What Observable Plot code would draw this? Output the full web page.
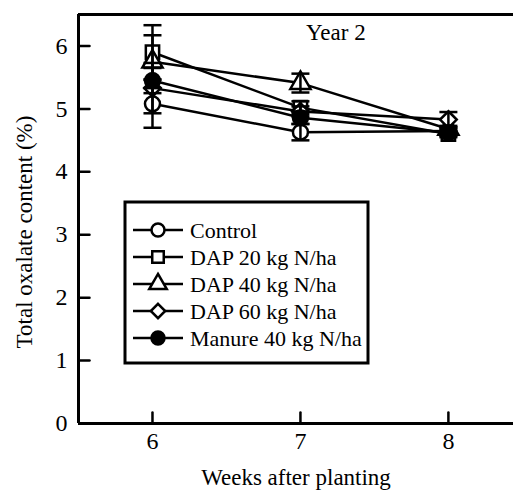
<!DOCTYPE html>
<html><head><meta charset="utf-8">
<script src="https://cdn.jsdelivr.net/npm/d3@7"></script>
<script src="https://cdn.jsdelivr.net/npm/@observablehq/plot@0.6"></script>
<style>
html,body{margin:0;padding:0;background:#fff;}
svg, svg text { font-family: 'Liberation Serif', 'Times New Roman', Times, serif !important; }
</style></head>
<body><div id="chart"></div>
<script>
const weeks = [6, 7, 8];
const seriesNames = ["Control", "DAP 20 kg N/ha", "DAP 40 kg N/ha", "DAP 60 kg N/ha", "Manure 40 kg N/ha"];
const control = [5.08, 4.63, 4.65];
const dap20   = [5.90, 5.02, 4.60];
const dap40   = [5.75, 5.41, 4.68];
const dap60   = [5.33, 4.96, 4.83];
const manure  = [5.45, 4.86, 4.62];
const controlErr = [0.38, 0.13, 0.05];
const dap20Err   = [0.43, 0.10, 0.05];
const dap40Err   = [0.42, 0.15, 0.05];
const dap60Err   = [0.40, 0.08, 0.12];
const manureErr  = [0.20, 0.10, 0.05];
const yTicks = [0, 1, 2, 3, 4, 5, 6];
const xTicks = [6, 7, 8];
const xDomain = [5.5, 8.44];
const yDomain = [0, 6.5];
const symbols = ["circle", "square", "triangle", "diamond2", "circle"];
const fills = ["white", "white", "white", "white", "black"];

const values = [control, dap20, dap40, dap60, manure];
const errs = [controlErr, dap20Err, dap40Err, dap60Err, manureErr];
const data = [];
seriesNames.forEach((s, i) => weeks.forEach((w, j) => data.push({
  series: s, week: w, value: values[i][j], err: errs[i][j], symbol: symbols[i], fill: fills[i]
})));

const capSymbol = {draw(ctx) { ctx.moveTo(-9, 0); ctx.lineTo(9, 0); }};
const tickRight = {draw(ctx, l) { ctx.moveTo(0, 0); ctx.lineTo(0, -l); }};

const plot = Plot.plot({
  width: 513, height: 495,
  marginLeft: 78, marginTop: 14, marginRight: 0, marginBottom: 72,
  style: {fontSize: "22px", color: "black", background: "white"},
  x: {domain: xDomain, axis: null},
  y: {domain: yDomain, axis: null},
  marks: [
    Plot.line(data, {x: "week", y: "value", z: "series", stroke: "black", strokeWidth: 2.5}),
    Plot.dot(data, {x: "week", y: "value", symbol: d => d.symbol, fill: d => d.fill, stroke: "black", strokeWidth: 2.5, r: 7.5}),
    Plot.ruleX(data, {x: "week", y1: d => d.value - d.err, y2: d => d.value + d.err, stroke: "black", strokeWidth: 2.5}),
    Plot.dot(data, {x: "week", y: d => d.value + d.err, symbol: capSymbol, stroke: "black", strokeWidth: 2.5, fill: "none"}),
    Plot.dot(data, {x: "week", y: d => d.value - d.err, symbol: capSymbol, stroke: "black", strokeWidth: 2.5, fill: "none"}),
    Plot.ruleX([xDomain[0]], {stroke: "black", strokeWidth: 3}),
    Plot.ruleY([yDomain[0]], {stroke: "black", strokeWidth: 3}),
    Plot.ruleY([yDomain[1]], {stroke: "black", strokeWidth: 3}),
    Plot.vector(yTicks.slice(1), {y: d => d, frameAnchor: "left", length: 11, rotate: 90, anchor: "start", shape: tickRight, stroke: "black", strokeWidth: 2.5}),
    Plot.text(yTicks, {y: d => d, frameAnchor: "left", dx: -11, textAnchor: "end", text: d => String(d), fontSize: 24}),
    Plot.vector(xTicks, {x: d => d, frameAnchor: "bottom", length: 11, anchor: "start", shape: tickRight, stroke: "black", strokeWidth: 2.5}),
    Plot.text(xTicks, {x: d => d, frameAnchor: "bottom", dy: 25, text: d => String(d), fontSize: 24})
  ]
});

const svg = d3.select(plot);
svg.append("text").attr("x", 296).attr("y", 485).attr("text-anchor", "middle")
  .attr("font-size", 23).attr("fill", "black").text("Weeks after planting");
svg.append("text").attr("transform", "translate(32,232) rotate(-90)").attr("text-anchor", "middle")
  .attr("font-size", 23).attr("fill", "black").text("Total oxalate content (%)");
svg.append("text").attr("x", 306).attr("y", 40).attr("text-anchor", "start").attr("font-size", 23).attr("fill", "black").text("Year 2");
const lg = svg.append("g");
lg.append("rect").attr("x", 125).attr("y", 202).attr("width", 243).attr("height", 161)
  .attr("fill", "white").attr("stroke", "black").attr("stroke-width", 3);
const d3sym = {circle: d3.symbolCircle, square: d3.symbolSquare, triangle: d3.symbolTriangle, diamond2: d3.symbolDiamond2};
seriesNames.forEach((s, i) => {
  const y = 230 + i * 27;
  lg.append("line").attr("x1", 133).attr("x2", 183).attr("y1", y).attr("y2", y).attr("stroke", "black").attr("stroke-width", 2.5);
  lg.append("path").attr("d", d3.symbol(d3sym[symbols[i]], 6.5 * 6.5 * Math.PI)())
    .attr("transform", `translate(158,${y})`).attr("fill", fills[i]).attr("stroke", "black").attr("stroke-width", 2.5);
  lg.append("text").attr("x", 190).attr("y", y).attr("dy", "0.35em").attr("text-anchor", "start").attr("font-size", 22).attr("fill", "black").text(s);
});
document.getElementById("chart").appendChild(plot);
</script></body></html>
